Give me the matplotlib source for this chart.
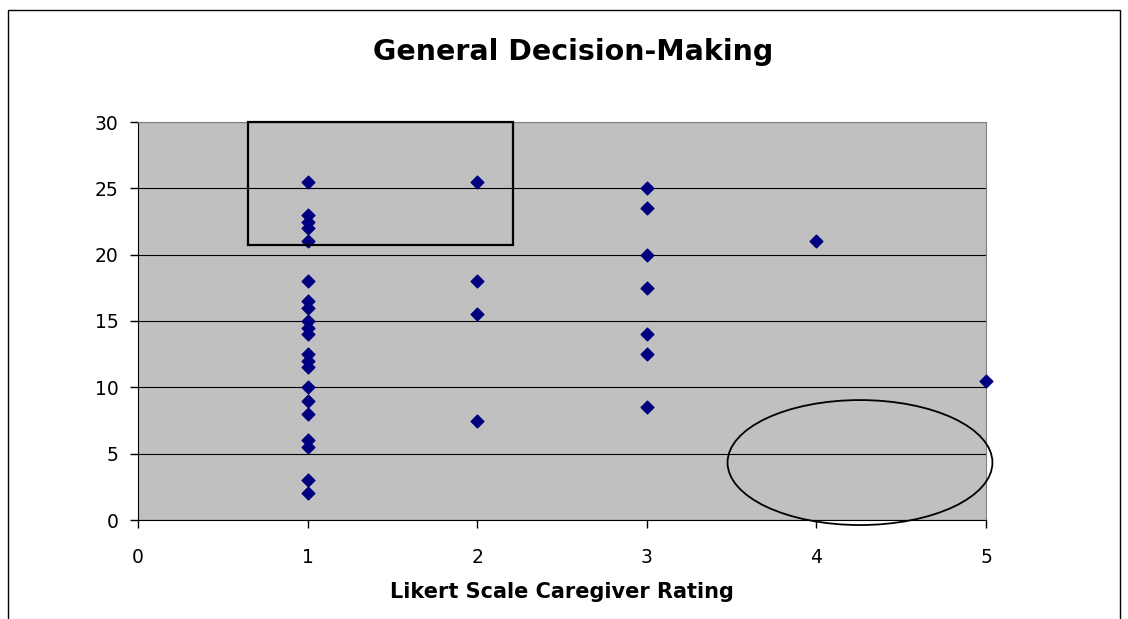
import matplotlib.pyplot as plt
from matplotlib.patches import Rectangle, Ellipse

# ratings and scores
rating_1 = [25.5, 23, 22.5, 22, 21, 18, 16.5, 16, 15, 14.5, 14, 12.5, 12, 11.5,
            10, 9, 8, 6, 5.5, 3, 2]
rating_2 = [25.5, 18, 15.5, 7.5]
rating_3 = [25, 23.5, 20, 17.5, 14, 12.5, 8.5]
rating_4 = [21]
rating_5 = [10.5]

rating = ([1] * len(rating_1) + [2] * len(rating_2) + [3] * len(rating_3)
          + [4] * len(rating_4) + [5] * len(rating_5))
score = rating_1 + rating_2 + rating_3 + rating_4 + rating_5

fig = plt.figure(figsize=(11.28, 6.19), dpi=100)
ax = fig.add_axes([138 / 1128, 1 - 520 / 619, 848 / 1128, 398 / 619])
ax.set_facecolor('#C0C0C0')

ax.scatter(rating, score, marker='D', s=42, color='#000080', zorder=3, clip_on=False)

ax.set_xlim(0, 5)
ax.set_ylim(0, 30)
ax.set_xticks(range(6))
ax.set_yticks(range(0, 31, 5))
ax.yaxis.grid(True, color='black', linewidth=0.8)
ax.set_axisbelow(True)
ax.tick_params(labelsize=13.5, length=6, width=1, direction='out')
ax.tick_params(axis='x', pad=14)
ax.tick_params(axis='y', pad=8)
for s in ['top', 'right']:
    ax.spines[s].set_color('#808080')
for s in ['left', 'bottom']:
    ax.spines[s].set_color('black')

fig.text(573 / 1128, 1 - 52 / 619, 'General Decision-Making', fontsize=20.5,
         fontweight='bold', ha='center', va='center')
ax.set_xlabel('Likert Scale Caregiver Rating', fontsize=15, fontweight='bold', labelpad=11)

# annotation shapes drawn on the chart
ax.add_patch(Rectangle((0.649, 20.7), 1.562, 9.3, fill=False, edgecolor='black',
                       linewidth=1.6, zorder=4, clip_on=False))
ax.add_patch(Ellipse((4.257, 4.33), 1.562, 9.42, fill=False, edgecolor='black',
                     linewidth=1.3, zorder=4, clip_on=False))

# outer chart frame
fig.patches.append(Rectangle((8 / 1128, -0.05), 1112 / 1128, 1 - 10 / 619 + 0.05,
                             transform=fig.transFigure, fill=False,
                             edgecolor='black', linewidth=1))

fig.savefig('out.png', dpi=100)
